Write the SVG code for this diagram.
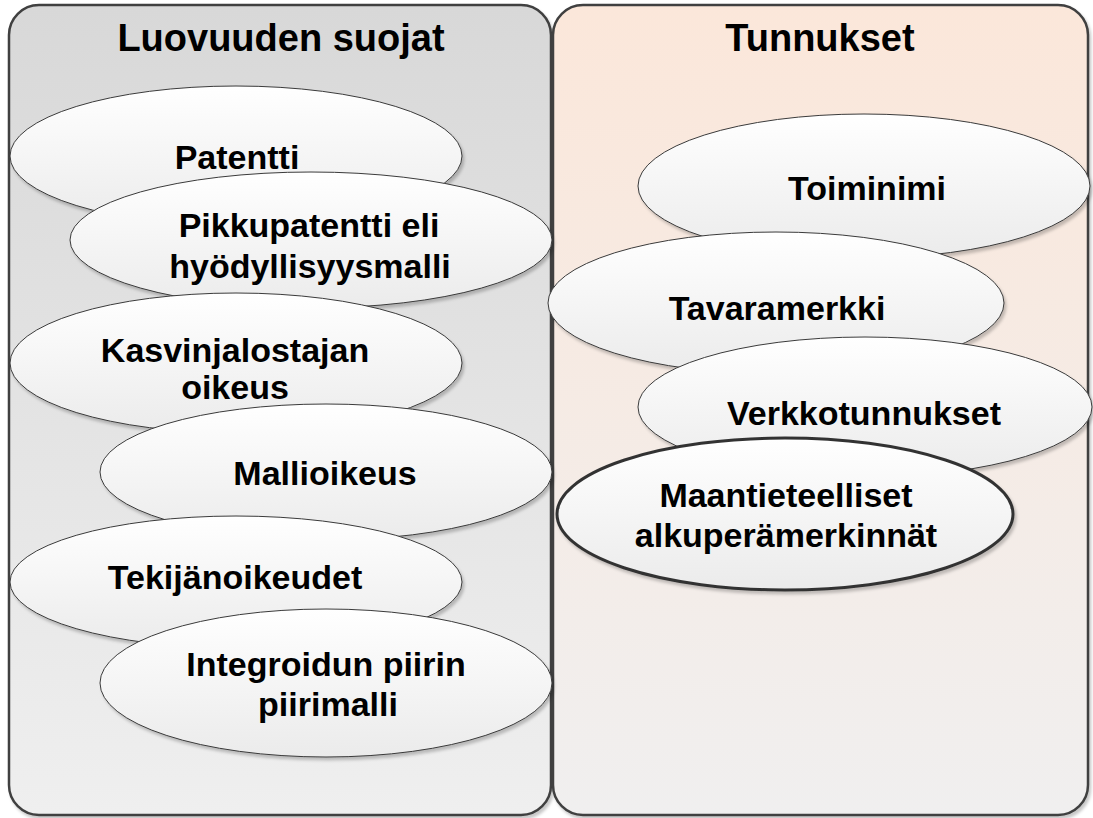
<svg xmlns="http://www.w3.org/2000/svg" width="1093" height="818" viewBox="0 0 1093 818">
  <defs>
    <linearGradient id="gL" x1="0" y1="0" x2="0" y2="1">
      <stop offset="0" stop-color="#d8d8d8"/>
      <stop offset="1" stop-color="#efefef"/>
    </linearGradient>
    <linearGradient id="gR" x1="0" y1="0" x2="0" y2="1">
      <stop offset="0" stop-color="#fbe7da"/>
      <stop offset="1" stop-color="#f0efef"/>
    </linearGradient>
    <linearGradient id="gE" x1="0" y1="0" x2="0" y2="1">
      <stop offset="0" stop-color="#ffffff"/>
      <stop offset="1" stop-color="#ebebeb"/>
    </linearGradient>
    <filter id="sh" x="-10%" y="-10%" width="120%" height="130%">
      <feDropShadow dx="2" dy="3" stdDeviation="1.5" flood-color="#000" flood-opacity="0.22"/>
    </filter>
    <style>
      .panel { stroke: #404040; stroke-width: 2.5; filter: url(#sh); }
      .ell { fill: url(#gE); stroke: #3a3a3a; stroke-width: 1; filter: url(#sh); }
      .sel { stroke: #333; stroke-width: 3; }
      .t { font-family: "Liberation Sans", Arial, sans-serif; font-weight: bold; font-size: 34px; fill: #000; text-anchor: middle; }
      .title { font-size: 38px; }
    </style>
  </defs>

  <g id="panel-luovuus">
    <rect class="panel" x="9" y="5" width="542" height="810" rx="30" ry="30" fill="url(#gL)"/>
    <text class="t title" x="281" y="51">Luovuuden suojat</text>
  </g>
  <g id="panel-tunnukset">
    <rect class="panel" x="553" y="5" width="535" height="810" rx="30" ry="30" fill="url(#gR)"/>
    <text class="t title" x="820" y="51">Tunnukset</text>
  </g>

  <g id="n-patentti">
    <ellipse class="ell" cx="236" cy="156" rx="226" ry="70"/>
    <text class="t" x="237" y="169">Patentti</text>
  </g>
  <g id="n-pikkupatentti">
    <ellipse class="ell" cx="311" cy="240" rx="241" ry="68"/>
    <text class="t" x="309" y="237">Pikkupatentti eli</text>
    <text class="t" x="310" y="278">hyödyllisyysmalli</text>
  </g>
  <g id="n-kasvinjalostajan">
    <ellipse class="ell" cx="236" cy="363" rx="226" ry="70"/>
    <text class="t" x="235" y="362">Kasvinjalostajan</text>
    <text class="t" x="235" y="399">oikeus</text>
  </g>
  <g id="n-mallioikeus">
    <ellipse class="ell" cx="326" cy="472" rx="226" ry="68"/>
    <text class="t" x="325" y="485">Mallioikeus</text>
  </g>
  <g id="n-tekijanoikeudet">
    <ellipse class="ell" cx="236" cy="582" rx="226" ry="66"/>
    <text class="t" x="235" y="589">Tekijänoikeudet</text>
  </g>
  <g id="n-integroidun">
    <ellipse class="ell" cx="326" cy="683" rx="226" ry="74"/>
    <text class="t" x="326" y="676">Integroidun piirin</text>
    <text class="t" x="328" y="716">piirimalli</text>
  </g>

  <g id="n-toiminimi">
    <ellipse class="ell" cx="864" cy="186" rx="226" ry="72"/>
    <text class="t" x="867" y="200">Toiminimi</text>
  </g>
  <g id="n-tavaramerkki">
    <ellipse class="ell" cx="776" cy="303" rx="228" ry="71"/>
    <text class="t" x="777" y="320">Tavaramerkki</text>
  </g>
  <g id="n-verkkotunnukset">
    <ellipse class="ell" cx="865" cy="407" rx="227" ry="70"/>
    <text class="t" x="864" y="425">Verkkotunnukset</text>
  </g>
  <g id="n-maantieteelliset">
    <ellipse class="ell sel" cx="785" cy="514" rx="228" ry="76"/>
    <text class="t" x="786" y="507">Maantieteelliset</text>
    <text class="t" x="786" y="547">alkuperämerkinnät</text>
  </g>

  <g id="connectors"/>
</svg>
